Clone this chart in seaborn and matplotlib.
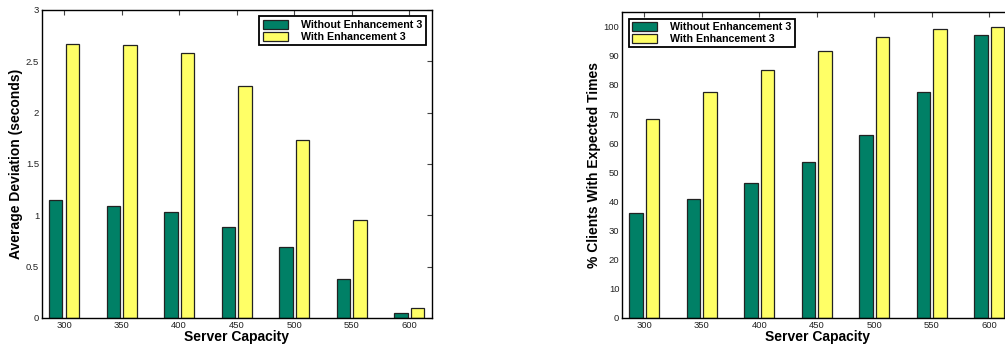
import matplotlib
matplotlib.use("Agg")
import matplotlib.pyplot as plt
import seaborn as sns
import pandas as pd

# Server capacities on the x axis
capacities = ["300", "350", "400", "450", "500", "550", "600"]
series_names = ["Without Enhancement 3", "With Enhancement 3"]

# Average deviation (seconds)
dev_without = [1.15, 1.09, 1.03, 0.89, 0.69, 0.38, 0.05]
dev_with = [2.67, 2.66, 2.58, 2.26, 1.73, 0.95, 0.10]

# % clients served within expected times
pct_without = [36.2, 40.8, 46.5, 53.5, 62.9, 77.5, 97.0]
pct_with = [68.2, 77.5, 85.1, 91.5, 96.5, 99.1, 100.0]

colors = ["#008066", "#ffff66"]

sns.set_style("white")
plt.rcParams["font.family"] = ["Liberation Sans", "DejaVu Sans"]
plt.rcParams["text.color"] = "black"
plt.rcParams["axes.labelcolor"] = "black"
plt.rcParams["xtick.color"] = "black"
plt.rcParams["ytick.color"] = "black"


def long_frame(a, b):
    return pd.DataFrame({
        "capacity": capacities * 2,
        "value": a + b,
        "series": [series_names[0]] * len(a) + [series_names[1]] * len(b),
    })


fig = plt.figure(figsize=(10.05, 3.52), dpi=100)
ax1 = fig.add_axes([0.0418, 0.0966, 0.388, 0.875])
ax2 = fig.add_axes([0.619, 0.0966, 0.388, 0.869])


def draw(ax, df, ylim, yticks, yticklabels, ylabel, legend_loc):
    sns.barplot(data=df, x="capacity", y="value", hue="series",
                palette=colors, saturation=1, width=0.58, gap=0.2,
                edgecolor="#222222", linewidth=0.9, ax=ax)
    ax.set_xlim(-0.385, 6.395)
    ax.set_ylim(*ylim)
    ax.set_yticks(yticks)
    ax.set_yticklabels(yticklabels)
    ax.tick_params(direction="in", length=3.5, width=0.8, color="#444444",
                   labelcolor="#222222", labelsize=6.8, top=True, right=True,
                   pad=2)
    for s in ax.spines.values():
        s.set_visible(True)
        s.set_color("black")
        s.set_linewidth(1.0)
    ax.set_xlabel("Server Capacity", fontsize=10, fontweight="bold",
                  labelpad=0, color="black")
    ax.set_ylabel(ylabel, fontsize=10, fontweight="bold", labelpad=2,
                  color="black")
    handles, labels = ax.get_legend_handles_labels()
    leg = ax.legend(handles, labels, loc=legend_loc,
                    prop={"weight": "bold", "size": 7.7},
                    frameon=True, fancybox=False, edgecolor="black",
                    framealpha=1, handlelength=2.4, handleheight=1.0,
                    handletextpad=1.2, labelspacing=0.15, borderpad=0.3,
                    borderaxespad=0.6)
    leg.get_frame().set_linewidth(1.3)
    for t in leg.get_texts():
        t.set_color("black")


draw(ax1, long_frame(dev_without, dev_with), (0, 3),
     [0, 0.5, 1, 1.5, 2, 2.5, 3], ["0", "0.5", "1", "1.5", "2", "2.5", "3"],
     "Average Deviation (seconds)", "upper right")

draw(ax2, long_frame(pct_without, pct_with), (0, 105),
     list(range(0, 101, 10)), [str(v) for v in range(0, 101, 10)],
     "% Clients With Expected Times", "upper left")

fig.savefig("out.png", dpi=100)
